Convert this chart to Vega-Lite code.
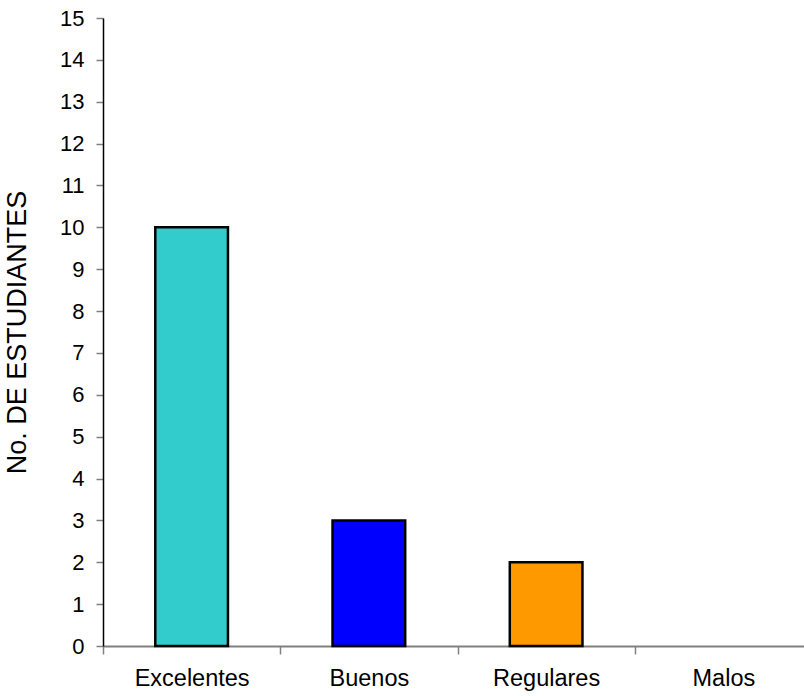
{
  "$schema": "https://vega.github.io/schema/vega-lite/v6.json",
  "autosize": "none",
  "width": 709,
  "height": 628,
  "padding": {"left": 103, "top": 18, "right": 0, "bottom": 50},
  "background": "white",
  "config": {"view": {"stroke": null}, "font": "Liberation Sans"},
  "data": {"values": [
    {"categoria": "Excelentes", "n": 10},
    {"categoria": "Buenos", "n": 3},
    {"categoria": "Regulares", "n": 2},
    {"categoria": "Malos", "n": 0}
  ]},
  "mark": {"type": "bar", "stroke": "black"},
  "encoding": {
    "x": {
      "field": "categoria", "type": "nominal", "sort": null,
      "scale": {"domain": ["Excelentes", "Buenos", "Regulares", "Malos"], "paddingInner": 0.59, "paddingOuter": 0.295},
      "axis": {
        "title": null, "labelAngle": 0, "tickOffset": -88.6, "labelOffset": 88.6,
        "domainColor": "#808080", "domainWidth": 2, "tickColor": "#808080", "tickWidth": 1.5, "tickSize": 8,
        "labelFont": "Liberation Sans", "labelFontSize": 23.5, "labelColor": "black", "labelPadding": 12
      }
    },
    "y": {
      "field": "n", "type": "quantitative",
      "scale": {"domain": [0, 15], "nice": false},
      "axis": {
        "title": "No. DE ESTUDIANTES", "values": [0,1,2,3,4,5,6,7,8,9,10,11,12,13,14,15],
        "grid": false, "domainColor": "black", "domainWidth": 1.5, "tickColor": "#808080", "tickWidth": 1.5, "tickSize": 7,
        "labelFont": "Liberation Sans", "labelFontSize": 22, "labelColor": "black", "labelPadding": 12,
        "titleFont": "Liberation Sans", "titleFontSize": 27, "titleFontWeight": "normal", "titleColor": "black", "titlePadding": 28
      }
    },
    "color": {
      "field": "categoria", "type": "nominal", "legend": null,
      "scale": {"domain": ["Excelentes", "Buenos", "Regulares", "Malos"], "range": ["#33CCCC", "#0000FF", "#FF9900", "#FFFFFF"]}
    },
    "strokeWidth": {"condition": {"test": "datum.n > 0", "value": 2.5}, "value": 0}
  }
}
